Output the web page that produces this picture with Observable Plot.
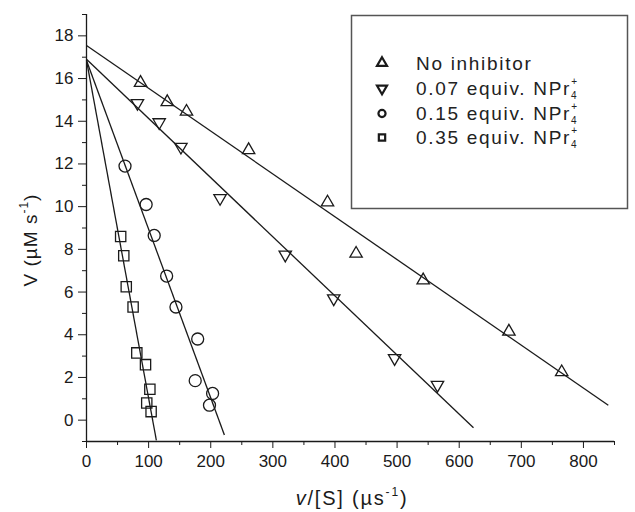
<!DOCTYPE html>
<html>
<head>
<meta charset="utf-8">
<script src="https://cdn.jsdelivr.net/npm/d3@7"></script>
<script src="https://cdn.jsdelivr.net/npm/@observablehq/plot@0.6"></script>
<style>
  html, body { margin: 0; padding: 0; background: #fff; }
  #chart { width: 635px; height: 512px; }
</style>
</head>
<body>
<div id="chart"></div>
<script>
// ---- data ----
const seriesNames = ["No inhibitor", "0.07 equiv. NPr", "0.15 equiv. NPr", "0.35 equiv. NPr"];
const seriesHasIon = [false, true, true, true];

const noInhX = [87, 130, 161, 261, 388, 434, 542, 680, 765];
const noInhY = [15.8, 14.9, 14.45, 12.65, 10.2, 7.8, 6.55, 4.15, 2.25];

const eq007X = [82, 117, 152, 215, 320, 398, 496, 565];
const eq007Y = [14.85, 13.95, 12.8, 10.4, 7.75, 5.7, 2.9, 1.65];

const eq015X = [62, 96, 109, 129, 144, 179, 175, 203, 198];
const eq015Y = [11.9, 10.1, 8.65, 6.75, 5.3, 3.8, 1.85, 1.25, 0.7];

const eq035X = [55, 60, 64, 75, 81, 95, 102, 97, 104];
const eq035Y = [8.6, 7.7, 6.25, 5.3, 3.15, 2.6, 1.45, 0.8, 0.4];

// fitted lines: start (x = 0) and end points
const fitStartX = [0, 0, 0, 0];
const fitStartY = [17.55, 16.9, 16.85, 16.85];
const fitEndX = [840, 623, 222, 112.5];
const fitEndY = [0.7, -0.36, -0.7, -0.95];

const xMajorTicks = [0, 100, 200, 300, 400, 500, 600, 700, 800];
const xMinorTicks = [50, 150, 250, 350, 450, 550, 650, 750, 850];
const yMajorTicks = [0, 2, 4, 6, 8, 10, 12, 14, 16, 18];
const yMinorTicks = [-1, 1, 3, 5, 7, 9, 11, 13, 15, 17, 19];

// ---- build ----
const xs = [noInhX, eq007X, eq015X, eq035X];
const ys = [noInhY, eq007Y, eq015Y, eq035Y];
const symbols = ["triangle", "triangle", "circle", "square"];
const rotations = [0, 180, 0, 0];
const radii = [4.6, 4.6, 6, 5.8];

const points = seriesNames.map((s, i) => xs[i].map((x, j) => ({s, x, y: ys[i][j]})));
const fits = seriesNames.map((s, i) => ({s, x1: fitStartX[i], y1: fitStartY[i], x2: fitEndX[i], y2: fitEndY[i]}));

const ink = "#1a1a1a";
const font = "'Liberation Sans', Arial, Helvetica, sans-serif";

const svg = Plot.plot({
  width: 635,
  height: 512,
  marginLeft: 86,
  marginRight: 21,
  marginTop: 14,
  marginBottom: 71,
  x: {domain: [0, 850]},
  y: {domain: [-1, 19]},
  style: {fontFamily: font, fontSize: "17px", color: ink, background: "white"},
  marks: [
    Plot.link(fits, {x1: "x1", y1: "y1", x2: "x2", y2: "y2", stroke: ink, strokeWidth: 1.3}),
    ...points.map((pts, i) => Plot.dot(pts, {
      x: "x", y: "y", symbol: symbols[i], rotate: rotations[i], r: radii[i],
      stroke: ink, fill: "none", strokeWidth: 1.3
    })),
    Plot.axisX({ticks: xMajorTicks, tickSize: 7, tickPadding: 6, label: null, stroke: ink}),
    Plot.axisX({ticks: xMinorTicks, tickSize: 4, tickFormat: () => "", label: null, stroke: ink}),
    Plot.axisY({ticks: yMajorTicks, tickSize: 8, tickPadding: 5, label: null, stroke: ink}),
    Plot.axisY({ticks: yMinorTicks, tickSize: 4, tickFormat: () => "", label: null, stroke: ink}),
    Plot.ruleX([0], {stroke: ink, strokeWidth: 1.3}),
    Plot.ruleY([-1], {stroke: ink, strokeWidth: 1.3})
  ]
});

const sel = d3.select(svg);

// axis titles
const xt = sel.append("text")
  .attr("x", 352).attr("y", 505)
  .attr("text-anchor", "middle")
  .attr("font-family", font).attr("font-size", 20).attr("fill", ink)
  .attr("letter-spacing", 1.8);
xt.append("tspan").attr("font-style", "italic").text("v");
xt.append("tspan").text("/[S] (µs");
xt.append("tspan").attr("font-size", 12).attr("dy", -9).text("-1");
xt.append("tspan").attr("dy", 9).text(")");

const yt = sel.append("text")
  .attr("transform", "translate(37,240) rotate(-90)")
  .attr("text-anchor", "middle")
  .attr("font-family", font).attr("font-size", 19).attr("fill", ink)
  .attr("letter-spacing", 1.0);
yt.append("tspan").text("V (µM s");
yt.append("tspan").attr("font-size", 12).attr("dy", -9).text("-1");
yt.append("tspan").attr("dy", 9).text(")");

// legend
const lg = sel.append("g").attr("text-anchor", "start");
lg.append("rect")
  .attr("x", 351.5).attr("y", 15.5).attr("width", 276).attr("height", 193)
  .attr("fill", "white").attr("stroke", "#555").attr("stroke-width", 1.5);
const rowY = [63, 88.5, 113.5, 137.5];
const legSymbols = [d3.symbolTriangle, d3.symbolTriangle, d3.symbolCircle, d3.symbolSquare];
const legSizes = [44, 44, 40, 40];
seriesNames.forEach((name, i) => {
  lg.append("path")
    .attr("d", d3.symbol(legSymbols[i], legSizes[i])())
    .attr("transform", `translate(382,${rowY[i]}) rotate(${rotations[i]})`)
    .attr("fill", "none").attr("stroke", ink).attr("stroke-width", 2.2);
  const t = lg.append("text")
    .attr("x", 416).attr("y", rowY[i] + 6.5)
    .attr("text-anchor", "start")
    .attr("font-family", font).attr("font-size", 19).attr("fill", "#222")
    .attr("letter-spacing", 1.7);
  t.append("tspan").text(name);
  if (seriesHasIon[i]) {
    t.append("tspan").attr("font-size", 10).attr("dy", 4).text("4");
    t.append("tspan").attr("font-size", 10).attr("dx", -7).attr("dy", -14).text("+");
  }
});

document.getElementById("chart").appendChild(svg);
</script>
</body>
</html>
